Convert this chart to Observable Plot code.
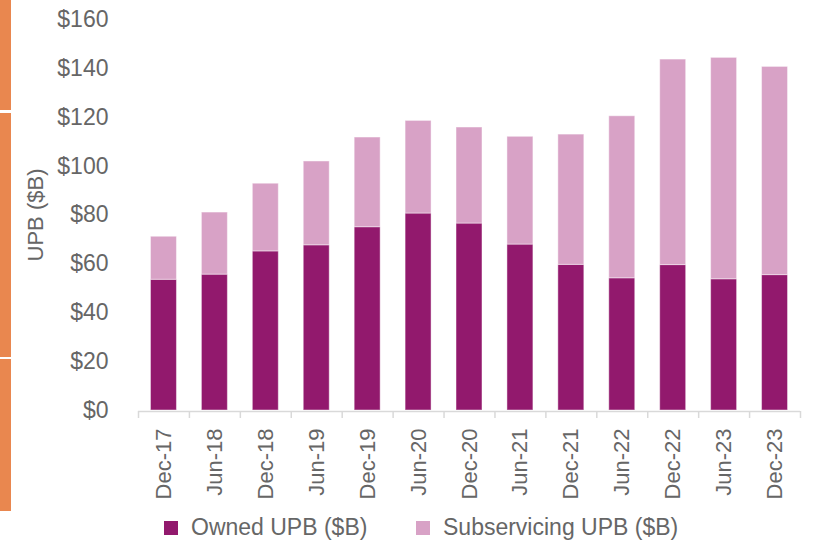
<!DOCTYPE html>
<html><head><meta charset="utf-8">
<script src="https://cdn.jsdelivr.net/npm/d3@7"></script>
<script src="https://cdn.jsdelivr.net/npm/@observablehq/plot@0.6"></script>
<style>
body{margin:0;background:#fff;font-family:"Liberation Sans",Arial,sans-serif;}
#wrap{position:relative;width:816px;height:545px;overflow:hidden;background:#fff;}
#chart{position:absolute;left:0;top:0;}
.strip{position:absolute;left:0;width:11px;background:#E9874F;}
#legend{position:absolute;left:0;top:510px;width:816px;height:35px;}
.item{position:absolute;top:0;height:35px;display:flex;align-items:center;font-size:23px;color:#666;white-space:nowrap;}
.sw{width:14px;height:14px;margin-right:13px;flex:none;}
</style></head><body>
<div id="wrap">
  <div id="chart"></div>
  <div class="strip" style="top:0;height:110px"></div>
  <div class="strip" style="top:113px;height:244px"></div>
  <div class="strip" style="top:359px;height:152px"></div>
  <div id="legend"></div>
</div>
<script>
const periods = ["Dec-17","Jun-18","Dec-18","Jun-19","Dec-19","Jun-20","Dec-20","Jun-21","Dec-21","Jun-22","Dec-22","Jun-23","Dec-23"];
const owned = [53.5, 55.6, 65.1, 67.6, 75.0, 80.6, 76.5, 67.9, 59.6, 54.1, 59.5, 53.7, 55.4];
const subservicing = [17.6, 25.4, 27.7, 34.3, 36.7, 37.9, 39.3, 44.1, 53.3, 66.3, 84.1, 90.6, 85.2];
const seriesNames = ["Owned UPB ($B)", "Subservicing UPB ($B)"];
const yTicks = [0, 20, 40, 60, 80, 100, 120, 140, 160];
const yLabel = "UPB ($B)";

const seriesColors = ["#92196D", "#D8A2C6"];
const W = 816, H = 510, mL = 138, mR = 16, mT = 19, mB = 100;
const step = (W - mL - mR) / periods.length;

const rows = periods.flatMap((p, i) => [
  {period: p, series: seriesNames[0], value: owned[i]},
  {period: p, series: seriesNames[1], value: subservicing[i]}
]);

const chart = Plot.plot({
  width: W, height: H,
  marginLeft: mL, marginRight: mR, marginTop: mT, marginBottom: mB,
  style: {fontFamily: "Liberation Sans, Arial, sans-serif", color: "#666", background: "transparent", overflow: "visible"},
  x: {domain: periods, paddingInner: 0.49, paddingOuter: 0.245, round: false, axis: null},
  y: {domain: [0, 160], axis: null},
  color: {domain: seriesNames, range: seriesColors},
  marks: [
    Plot.barY(rows, {x: "period", y: "value", fill: "series", stroke: "#fff", strokeOpacity: 0.45, strokeWidth: 1}),
    Plot.ruleY([0], {stroke: "#d9d9d9", strokeWidth: 1.5, dy: 1}),
    Plot.ruleX(periods, {x: d => d, y1: 0, y2: 0, insetTop: 1, insetBottom: -8, dx: -step / 2, stroke: "#d9d9d9", strokeWidth: 1.5}),
    Plot.ruleX(periods.slice(-1), {x: d => d, y1: 0, y2: 0, insetTop: 1, insetBottom: -8, dx: step / 2, stroke: "#d9d9d9", strokeWidth: 1.5}),
    Plot.axisY({ticks: yTicks, tickFormat: d => "$" + d, tickSize: 0, tickPadding: 30, fontSize: 23, label: null}),
    Plot.axisX({tickRotate: -90, tickSize: 0, tickPadding: 18, fontSize: 22, label: null}),
    Plot.text([yLabel], {frameAnchor: "left", textAnchor: "middle", rotate: -90, dx: -103, fontSize: 22, lineAnchor: "middle", fill: "#666"})
  ]
});
document.getElementById("chart").appendChild(chart);

const legend = document.getElementById("legend");
const legendX = [164, 416];
seriesNames.forEach((name, i) => {
  const item = document.createElement("div");
  item.className = "item";
  item.style.left = legendX[i] + "px";
  const sw = document.createElement("span");
  sw.className = "sw";
  sw.style.background = seriesColors[i];
  const t = document.createElement("span");
  t.textContent = name;
  item.appendChild(sw); item.appendChild(t);
  legend.appendChild(item);
});
</script>
</body></html>
